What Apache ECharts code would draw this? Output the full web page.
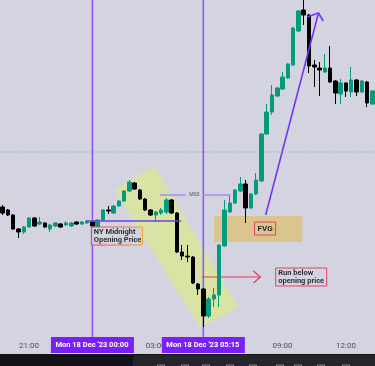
<!DOCTYPE html>
<html><head><meta charset="utf-8">
<script src="https://cdn.jsdelivr.net/npm/echarts@6/dist/echarts.min.js"></script>
<style>html,body{margin:0;padding:0;background:#d3d4df;overflow:hidden}#c{width:375px;height:366px}</style>
</head><body><div id="c"></div>
<script>
// ---- categories (15-minute candles) ----
const times = ['19:45','20:00','20:15','20:30','20:45','21:00','21:15','21:30','21:45','22:00','22:15','22:30','22:45','23:00','23:15','23:30','23:45',
'00:00','00:15','00:30','00:45','01:00','01:15','01:30','01:45','02:00','02:15','02:30','02:45','03:00','03:15','03:30','03:45','04:00','04:15','04:30','04:45','05:00',
'05:15','05:30','05:45','06:00','06:15','06:30','06:45','07:00','07:15','07:30','07:45','08:00','08:15','08:30','08:45','09:00','09:15','09:30','09:45','10:00','10:15',
'10:30','10:45','11:00','11:15','11:30','11:45','12:00','12:15','12:30','12:45','13:00','13:15'];
const tickLabels = ['21:00','03:00','09:00','12:00'];
// ---- candles: [open, close, low, high] ----
const candles = [
[129,123,121,131],[126,121,120,127],[121,107,106,122],[107,104,98,108],[104,109,102,110],
[109,118,108,119],[118,110,109,119],[112,114,111,119],[113,109,108,114],[107,111,104,112],
[110,113,109,114],[112,109,108,113],[111,113,110,115],[110,113,109,114],[114,112,111,115],
[112,114,111,115],[113,115,112,116],[114,110,109,115],[109,116,108,117],[116,126,115,127],
[126,125,122,130],[123,130,122,131],[130,135,129,136],[135,145,134,146],[145,154,144,156],
[153,147,146,154],[146,137,136,147],[137,126,125,138],[126,121,120,127],[121,124,114,125],
[123,126,121,128],[124,136,122,138],[136,123,122,137],[123,84,83,124],[84,80,76,91],
[80,79,74,91],[79,53,52,80],[52,47,41,53],[47,20,9,48],[20,37,18,39],
[37,41,29,48],[41,91,29,92],[90,126,89,136],[124,133,123,140],[133,146,132,147],
[145,152,144,159],[152,128,113,156],[128,142,127,143],[142,156,141,163],[155,202,154,203],
[202,224,201,232],[224,241,221,251],[240,248,239,249],[247,259,246,264],[258,272,257,273],
[271,308,270,309],[305,325,304,326],[326,321,311,338],[321,270,263,322],[271,269,249,276],
[268,266,240,274],[264,268,263,282],[268,254,253,290],[255,243,232,256],[242,253,232,257],
[253,245,239,254],[244,256,239,269],[256,244,240,257],[244,255,243,256],[254,233,229,255],
[232,245,231,246]
];
// ---- annotations (x = candle index, y = price) ----
const markerTimes = ['00:00','05:15'];
const markerDates = ["Mon 18 Dec '23","Mon 18 Dec '23"];
const levelLine = 184;
const channel = [[21.2,146],[28.7,170],[44.5,29],[37.4,8]];
const fvgZone = [40.0, 56.75, 94, 120];
const openingPrice = 115, openingSpan = [15.8, 33.8];
const mssLevel = 141, mssSpans = [[29.8,34.7],[37.9,43.2]], mssTextAt = 36.3;
const runArrow = [[37.7,59],[48.8,59]], runHead = [[47.5,65],[48.8,59],[47.5,53]];
const trendArrow = [[49.8,121],[59.8,323]], trendHead = [[57.7,319],[59.8,323],[60.7,315]];
const nyLabel = {at:[16.8,109], lines:['NY Midnight','Opening Price']};
const runLabel = {at:[51.7,68], lines:['Run below','opening price']};
const fvgLabel = {at:[47.7,114], text:'FVG'};

const FONT = 'Roboto, "Liberation Sans", sans-serif';
const chart = echarts.init(document.getElementById('c'), null, {renderer:'canvas'});

function seg(P, a, b, style){const p=P(a[0],a[1]),q=P(b[0],b[1]);return {type:'line',shape:{x1:p[0],y1:p[1],x2:q[0],y2:q[1]},style};}

function bgRender(params, api){
  const P=(x,v)=>api.coord([x,v]);
  const ch=[];
  ch.push({type:'polygon',shape:{points:channel.map(p=>P(p[0],p[1]))},style:{fill:'#d9e3a3'}});
  const f1=P(fvgZone[0],fvgZone[3]), f2=P(fvgZone[1],fvgZone[2]);
  ch.push({type:'rect',shape:{x:f1[0],y:f1[1],width:f2[0]-f1[0],height:f2[1]-f1[1]},style:{fill:'#dcc48f'}});
  ch.push(seg(P,[-0.5,levelLine],[70.5,levelLine],{stroke:'#5fb3ac',lineWidth:1,lineDash:[1,2]}));
  const yTop=P(0,336)[1], yAx=P(0,0)[1];
  markerTimes.forEach(t=>{const x=P(times.indexOf(t),0)[0];
    ch.push({type:'line',shape:{x1:x,y1:yTop,x2:x,y2:yAx+1},style:{stroke:'#9356fb',lineWidth:1.6}});});
  mssSpans.forEach(s=>ch.push(seg(P,[s[0],mssLevel],[s[1],mssLevel],{stroke:'#a48ff0',lineWidth:1.5})));
  const mt=P(mssTextAt,mssLevel);
  ch.push({type:'text',style:{text:'MSS',x:mt[0],y:mt[1],fill:'#55556a',font:'5px '+FONT,textAlign:'center',verticalAlign:'middle'}});
  ch.push(seg(P,runArrow[0],runArrow[1],{stroke:'#e23a50',lineWidth:1.2}));
  return {type:'group',children:ch};
}

function box(P, at, w, h, lines, stroke, fill, font){
  const p=P(at[0],at[1]);
  const ch=[{type:'rect',shape:{x:p[0],y:p[1],width:w,height:h},style:{fill:fill,stroke:stroke,lineWidth:1}}];
  lines.forEach((t,k)=>ch.push({type:'text',style:{text:t,x:p[0]+2.5,y:p[1]+5+k*8.2,fill:'#2f2f36',font:font,textAlign:'left',verticalAlign:'middle'}}));
  return ch;
}

function fgRender(params, api){
  const P=(x,v)=>api.coord([x,v]);
  let ch=[];
  ch.push(seg(P,[openingSpan[0],openingPrice],[openingSpan[1],openingPrice],{stroke:'#6d43d6',lineWidth:1.5}));
  ch.push({type:'polyline',shape:{points:runHead.map(p=>P(p[0],p[1]))},style:{stroke:'#e23a50',lineWidth:1.2,fill:null}});
  ch.push(seg(P,trendArrow[0],trendArrow[1],{stroke:'#7434f2',lineWidth:1.6}));
  ch.push({type:'polyline',shape:{points:trendHead.map(p=>P(p[0],p[1]))},style:{stroke:'#7434f2',lineWidth:1.6,fill:null}});
  const grad=new echarts.graphic.LinearGradient(0,0,1,0,[{offset:0,color:'#e8336e'},{offset:1,color:'#f4a224'}]);
  ch=ch.concat(box(P,nyLabel.at,51,18,nyLabel.lines,grad,'rgba(211,212,223,0.85)','bold 7.5px '+FONT));
  ch=ch.concat(box(P,runLabel.at,51,18,runLabel.lines,'#e6405c','#d3d4df','bold 7.5px '+FONT));
  const fp=P(fvgLabel.at[0],fvgLabel.at[1]);
  ch.push({type:'rect',shape:{x:fp[0],y:fp[1],width:21,height:13},style:{fill:'#dcc48f',stroke:'#e6405c',lineWidth:1}});
  ch.push({type:'text',style:{text:fvgLabel.text,x:fp[0]+10.5,y:fp[1]+7,fill:'#2a2a2a',font:'bold 8px '+FONT,textAlign:'center',verticalAlign:'middle'}});
  const yAx=P(0,0)[1];
  markerTimes.forEach((t,k)=>{const x=P(times.indexOf(t),0)[0];
    ch.push({type:'rect',shape:{x:x-41.5,y:yAx+1,width:83,height:16},style:{fill:'#7a1ff5'}});
    ch.push({type:'text',style:{text:markerDates[k],x:x-37,y:yAx+9.5,fill:'#ffffff',font:'bold 7.5px '+FONT,textAlign:'left',verticalAlign:'middle'}});
    ch.push({type:'text',style:{text:t,x:x+36,y:yAx+9.5,fill:'#ffffff',font:'bold 7.5px '+FONT,textAlign:'right',verticalAlign:'middle'}});
  });
  return {type:'group',children:ch};
}

const iconXs=[158,182,203,227,250,277,295,318,343];
const graphics=[
  {type:'rect',left:0,top:354,shape:{width:375,height:12},style:{fill:'#131317'},z:100},
  {type:'rect',left:133,top:355,shape:{width:242,height:11,r:[4,0,0,0]},style:{fill:'#25262b'},z:101}
].concat(iconXs.map(x=>({type:'rect',left:x-3,top:362.5,shape:{width:7,height:5},style:{fill:null,stroke:'#8d8d95',lineWidth:1},z:102})));

chart.setOption({
  animation:false,
  backgroundColor:'#d3d4df',
  grid:{left:-2,right:0,top:0,bottom:30},
  xAxis:[
    {type:'category',data:times,boundaryGap:true,axisLine:{show:false},axisTick:{show:false},splitLine:{show:false},
     axisLabel:{interval:(i,v)=>tickLabels.includes(v),color:'#4e4e5a',fontSize:8,margin:6,fontFamily:FONT}},
    {type:'value',min:-0.5,max:70.5,show:false}
  ],
  yAxis:{type:'value',min:0,max:336,show:false},
  series:[
    {type:'custom',xAxisIndex:1,z:1,data:[[0,0]],renderItem:bgRender,silent:true},
    {type:'candlestick',xAxisIndex:0,z:2,data:candles,barWidth:4,
     itemStyle:{color:'#089a7d',color0:'#000000',borderColor:'#089a7d',borderColor0:'#000000',borderWidth:1}},
    {type:'custom',xAxisIndex:1,z:3,data:[[0,0]],renderItem:fgRender,silent:true}
  ],
  graphic:graphics
});
</script></body></html>
